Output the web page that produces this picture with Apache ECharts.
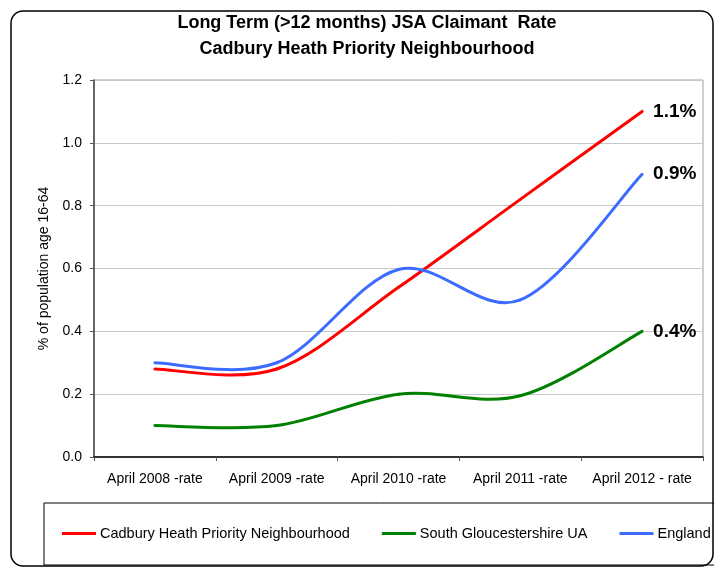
<!DOCTYPE html>
<html>
<head>
<meta charset="utf-8">
<script src="https://cdn.jsdelivr.net/npm/echarts@6/dist/echarts.min.js"></script>
<style>
    html, body { margin: 0; padding: 0; background: #fff; }
    #chart { width: 714px; height: 567px; }
</style>
</head>
<body>
<div id="chart"></div>
<script>
var categories = ['April 2008 -rate', 'April 2009 -rate', 'April 2010 -rate', 'April 2011 -rate', 'April 2012 - rate']
var cadbury = [0.28, 0.28, 0.54, 0.82, 1.10]
var southGlos = [0.10, 0.10, 0.20, 0.195, 0.40]
var england = [0.30, 0.30, 0.597, 0.50, 0.90]
var yTicks = [0, 0.2, 0.4, 0.6, 0.8, 1.0, 1.2]

var font = 'Arial, "Liberation Sans", sans-serif'
var chart = echarts.init(document.getElementById('chart'))

// spreadsheet-style smoothed line: one bezier per segment, control points at 1/6 of the neighbour span
function makeSeries(name, values, color) {
    var n = values.length

    return {
        name: name,
        type: 'custom',
        coordinateSystem: 'cartesian2d',
        itemStyle: { color: color },
        data: values.map(function(v, i) { return [i, v] }),
        encode: { x: 0, y: 1 },
        silent: true,
        z: 3,
        renderItem: function(params, api) {
            var i = params.dataIndex
            var pt = function(k) {
                k = Math.max(0, Math.min(n - 1, k))
                return api.coord([k, values[k]])
            }

            if (i === n - 1) {
                var p = pt(i)
                return {
                    type: 'text',
                    x: p[0] + 11,
                    y: p[1],
                    style: {
                        text: values[i].toFixed(1) + '%',
                        fill: '#000',
                        font: 'bold 19px ' + font,
                        align: 'left',
                        verticalAlign: 'middle'
                    }
                }
            }

            var p0 = pt(i - 1)
            var p1 = pt(i)
            var p2 = pt(i + 1)
            var p3 = pt(i + 2)

            return {
                type: 'bezierCurve',
                shape: {
                    x1: p1[0],
                    y1: p1[1],
                    x2: p2[0],
                    y2: p2[1],
                    cpx1: p1[0] + (p2[0] - p0[0]) / 6,
                    cpy1: p1[1] + (p2[1] - p0[1]) / 6,
                    cpx2: p2[0] - (p3[0] - p1[0]) / 6,
                    cpy2: p2[1] - (p3[1] - p1[1]) / 6
                },
                style: {
                    fill: 'none',
                    stroke: color,
                    lineWidth: 3,
                    lineCap: 'round'
                }
            }
        }
    }
}

var options = {
    animation: false,
    title: {
        text: 'Long Term (>12 months) JSA Claimant  Rate\nCadbury Heath Priority Neighbourhood',
        left: 367,
        top: 10,
        textAlign: 'center',
        padding: 0,
        textStyle: {
            fontFamily: font,
            fontSize: 18,
            fontWeight: 'bold',
            color: '#000',
            lineHeight: 26
        }
    },
    graphic: [{
        type: 'rect',
        shape: { x: 11, y: 11, width: 702, height: 555, r: 12 },
        style: { fill: 'none', stroke: '#000', lineWidth: 1.5 },
        silent: true
    }, {
        type: 'rect',
        shape: { x: 44, y: 503, width: 720, height: 62 },
        style: { fill: 'none', stroke: '#000', lineWidth: 1 },
        silent: true
    }],
    legend: {
        left: 62,
        top: 526,
        itemWidth: 34,
        itemHeight: 3,
        itemGap: 32,
        icon: 'rect',
        padding: 0,
        textStyle: {
            fontFamily: font,
            fontSize: 14.5,
            color: '#000',
            padding: [0, 0, 0, -1]
        },
        data: ['Cadbury Heath Priority Neighbourhood', 'South Gloucestershire UA', 'England']
    },
    grid: {
        left: 94,
        right: 11,
        top: 80,
        bottom: 110,
        show: true,
        borderColor: '#a0a0a0',
        borderWidth: 1
    },
    xAxis: {
        type: 'category',
        data: categories,
        boundaryGap: true,
        axisLine: { lineStyle: { color: '#000', width: 1.5 } },
        axisTick: { show: true, interval: 0, length: 4, lineStyle: { color: '#555' } },
        axisLabel: {
            interval: 0,
            margin: 15,
            color: '#000',
            fontFamily: font,
            fontSize: 14
        }
    },
    yAxis: {
        type: 'value',
        min: yTicks[0],
        max: yTicks[yTicks.length - 1],
        interval: 0.2,
        name: '% of population age 16-64',
        nameLocation: 'middle',
        nameGap: 40,
        nameTextStyle: {
            color: '#000',
            fontFamily: font,
            fontSize: 14
        },
        axisLine: { show: true, lineStyle: { color: '#444', width: 1.5 } },
        axisTick: { show: true, length: 4, lineStyle: { color: '#555' } },
        splitLine: { lineStyle: { color: '#c8c8c8', width: 1 } },
        axisLabel: {
            margin: 12,
            color: '#000',
            fontFamily: font,
            fontSize: 14,
            formatter: function(v) {
                return v.toFixed(1)
            }
        }
    },
    series: [
        makeSeries('Cadbury Heath Priority Neighbourhood', cadbury, '#ff0000'),
        makeSeries('South Gloucestershire UA', southGlos, '#008000'),
        makeSeries('England', england, '#3b6cff')
    ]
}

chart.setOption(options)
</script>
</body>
</html>
